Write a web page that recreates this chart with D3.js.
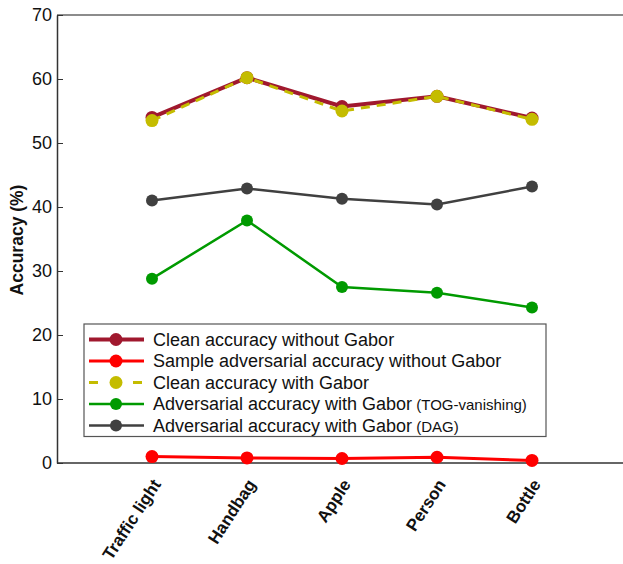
<!DOCTYPE html>
<html>
<head>
<meta charset="utf-8">
<script src="https://cdn.jsdelivr.net/npm/d3@7"></script>
<style>
  html, body { margin: 0; padding: 0; background: #fff; }
  svg { display: block; font-family: "Liberation Sans", Arial, Helvetica, sans-serif; }
</style>
</head>
<body>
<svg id="chart" width="623" height="564"></svg>
<script>
// Object categories on the x axis
const categories = ["Traffic light", "Handbag", "Apple", "Person", "Bottle"];

// Accuracy (%) per category for each setting
const cleanNoGabor     = [54.0, 60.2, 55.7, 57.3, 53.9];
const advNoGabor       = [1.0, 0.8, 0.7, 0.9, 0.4];
const cleanGabor       = [53.5, 60.2, 55.0, 57.3, 53.7];
const advGaborTOG      = [28.8, 37.9, 27.5, 26.6, 24.3];
const advGaborDAG      = [41.0, 42.9, 41.3, 40.4, 43.2];

const yTicks = [0, 10, 20, 30, 40, 50, 60, 70];

const series = [
  { name: "Clean accuracy without Gabor", extra: "", values: cleanNoGabor, color: "#a0182e", width: 4, dash: null, r: 6.5 },
  { name: "Sample adversarial accuracy without Gabor", extra: "", values: advNoGabor, color: "#ff0000", width: 3, dash: null, r: 6.5 },
  { name: "Clean accuracy with Gabor", extra: "", values: cleanGabor, color: "#c4bc00", width: 3, dash: "9,7", r: 6.5 },
  { name: "Adversarial accuracy with Gabor", extra: "(TOG-vanishing)", values: advGaborTOG, color: "#009a00", width: 2.5, dash: null, r: 6 },
  { name: "Adversarial accuracy with Gabor", extra: "(DAG)", values: advGaborDAG, color: "#404040", width: 2.5, dash: null, r: 6 }
];

const svg = d3.select("#chart");
const plotLeft = 57, plotRight = 627, plotTop = 15, plotBottom = 463;

const x = d3.scalePoint().domain(categories).range([plotLeft, plotRight]).padding(1);
const y = d3.scaleLinear().domain([0, 70]).range([plotBottom, plotTop]);

// top frame line
svg.append("line")
  .attr("x1", plotLeft).attr("x2", 623).attr("y1", plotTop).attr("y2", plotTop)
  .attr("stroke", "#8c8c8c").attr("stroke-width", 2);

// y axis
const yAxis = svg.append("g")
  .attr("transform", `translate(${plotLeft},0)`)
  .call(d3.axisLeft(y).tickValues(yTicks).tickSizeInner(-6).tickSizeOuter(0).tickPadding(6));
yAxis.select(".domain").attr("stroke", "#333").attr("stroke-width", 1.5);
yAxis.selectAll(".tick line").attr("stroke", "#333");
yAxis.selectAll(".tick text").attr("font-size", 18).attr("fill", "#111")
  .attr("x", -5).attr("font-family", "Liberation Sans, Arial, sans-serif");

// x axis
const xAxis = svg.append("g")
  .attr("transform", `translate(0,${plotBottom})`)
  .call(d3.axisBottom(x).tickSize(0).tickPadding(0));
xAxis.select(".domain").attr("stroke", "#333").attr("stroke-width", 1.5)
  .attr("d", `M${plotLeft},0H623`);
xAxis.selectAll(".tick text")
  .attr("font-size", 17).attr("font-weight", "bold").attr("fill", "#111")
  .attr("text-anchor", "end")
  .attr("dy", "0.35em")
  .attr("transform", "translate(4,18) rotate(-57)")
  .attr("x", 0).attr("y", 0);

// y axis title
svg.append("text")
  .attr("transform", "translate(23,240) rotate(-90)")
  .attr("text-anchor", "middle")
  .attr("font-size", 17.5).attr("font-weight", "bold").attr("fill", "#111")
  .text("Accuracy (%)");

// series lines and markers
const line = d3.line().x((d, i) => x(categories[i])).y(d => y(d));
series.forEach(s => {
  svg.append("path")
    .datum(s.values)
    .attr("d", line)
    .attr("fill", "none")
    .attr("stroke", s.color)
    .attr("stroke-width", s.width)
    .attr("stroke-dasharray", s.dash);
  svg.append("g").selectAll("circle")
    .data(s.values)
    .join("circle")
    .attr("cx", (d, i) => x(categories[i]))
    .attr("cy", d => y(d))
    .attr("r", s.r)
    .attr("fill", s.color);
});

// legend
const lg = svg.append("g");
lg.append("rect")
  .attr("x", 84).attr("y", 324).attr("width", 462).attr("height", 112.5)
  .attr("fill", "#fff").attr("stroke", "#555").attr("stroke-width", 1.2);
series.forEach((s, i) => {
  const cy = 339.5 + i * 21.5;
  lg.append("line")
    .attr("x1", 89).attr("x2", 144).attr("y1", cy).attr("y2", cy)
    .attr("stroke", s.color).attr("stroke-width", s.width)
    .attr("stroke-dasharray", s.dash ? "9,13" : null);
  lg.append("circle").attr("cx", 116).attr("cy", cy).attr("r", s.r).attr("fill", s.color);
  const t = lg.append("text")
    .attr("x", 153).attr("y", cy).attr("dy", "0.35em")
    .attr("font-size", 18).attr("fill", "#111");
  t.append("tspan").text(s.name);
  if (s.extra) t.append("tspan").attr("font-size", 15).text(" " + s.extra);
});
</script>
</body>
</html>
